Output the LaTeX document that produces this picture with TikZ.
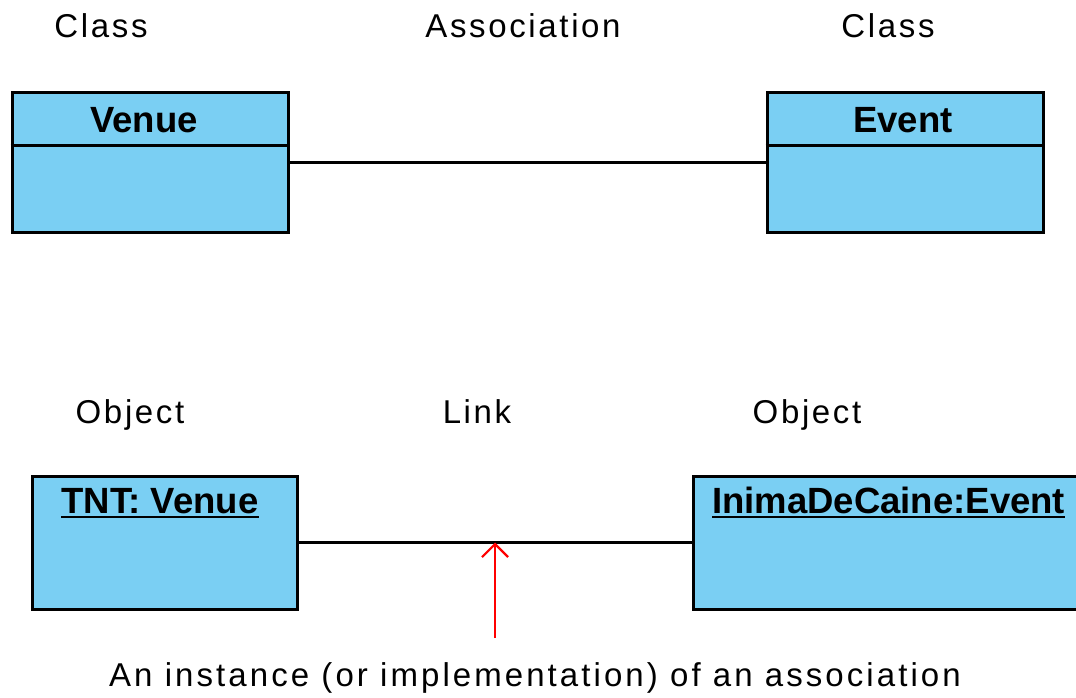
\documentclass[tikz,border=0pt]{standalone}
\usepackage{fontspec}
\setmainfont{Liberation Sans}
\newfontfamily\labelfont[LetterSpace=8]{Liberation Sans}
\newfontfamily\notefont[LetterSpace=9.3]{Liberation Sans}
\newfontfamily\namefont{Liberation Sans}[BoldFont={Liberation Sans Bold}]
\usetikzlibrary{arrows.meta}
\definecolor{umlfill}{HTML}{7ACFF3}
\definecolor{linkred}{HTML}{FF0000}
\tikzset{
  umlbox/.style={draw=black, fill=umlfill, line width=3pt, inner sep=0pt},
  caption/.style={font=\labelfont\fontsize{33}{36}\selectfont, inner sep=0pt, anchor=base},
  notetext/.style={font=\notefont\fontsize{33}{36}\selectfont, inner sep=0pt, anchor=base},
  boxname/.style={font=\namefont\bfseries\fontsize{36.5}{40}\selectfont, inner sep=0pt, anchor=base},
  assoc/.style={draw=black, line width=2.6pt},
  pointer/.style={draw=linkred, line width=2.2pt, -{Straight Barb[length=13pt,width=26pt,line width=2.2pt]}}
}
\begin{document}
\begin{tikzpicture}[x=1pt, y=-1pt]
  \useasboundingbox (0,0) rectangle (1076,698);
  \clip (0,0) rectangle (1076,698);
  \fill[white] (0,0) rectangle (1076,698);

  % column headings
  \node[caption] (hclassL) at (101,38) {Class};
  \node[caption] (hassoc) at (523,38) {Association};
  \node[caption] (hclassR) at (888,38) {Class};

  % classes
  \node[umlbox, minimum width=276pt, minimum height=139pt] (venue) at (150,162.5) {};
  \node[umlbox, minimum width=276pt, minimum height=139pt] (event) at (905,162.5) {};
  \draw[line width=3pt] (venue.west |- 0,146) -- (venue.east |- 0,146);
  \draw[line width=3pt] (event.west |- 0,146) -- (event.east |- 0,146);
  \node[boxname] (venuename) at (144,133) {Venue};
  \node[boxname] (eventname) at (903,133) {Event};

  % association
  \draw[assoc] (venue) -- (event);

  % row headings
  \node[caption] (hobjL) at (130,423) {Object};
  \node[caption] (hlink) at (477,423) {Link};
  \node[caption] (hobjR) at (807,423) {Object};

  % objects
  \node[umlbox, minimum width=265pt, minimum height=133pt] (tnt) at (164.5,542.5) {};
  \node[umlbox, minimum width=390pt, minimum height=133pt] (inima) at (888,542.5) {};
  \node[boxname] (tntname) at (160,513) {TNT: Venue};
  \node[boxname, anchor=base west] (inimaname) at (712,513) {InimaDeCaine:Event};
  \draw[line width=2pt] ([yshift=-3.5pt]tntname.base west) -- ([yshift=-3.5pt]tntname.base east);
  \draw[line width=2pt] ([yshift=-3.5pt]inimaname.base west) -- ([yshift=-3.5pt]inimaname.base east);

  % link
  \draw[assoc, line width=3pt] (tnt) -- (inima);

  % note pointing at the link
  \node[notetext] (note) at (535,686) {An instance (or implementation) of an association};
  \coordinate (notefoot) at (495,638);
  \draw[pointer] (notefoot) -- (notefoot |- tnt.east);
\end{tikzpicture}
\end{document}
